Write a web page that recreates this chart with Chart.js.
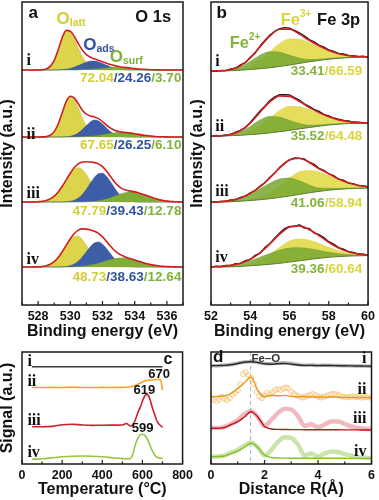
<!DOCTYPE html>
<html><head><meta charset="utf-8">
<script src="https://cdn.jsdelivr.net/npm/chart.js@4.4.1/dist/chart.umd.min.js"></script>
<style>
html,body{margin:0;padding:0;background:#fff;width:379px;height:500px;overflow:hidden;position:relative}
canvas{position:absolute;display:block}
</style></head><body>
<canvas id="ca" width="190" height="342" style="left:0;top:0"></canvas>
<canvas id="cb" width="189" height="342" style="left:190px;top:0"></canvas>
<canvas id="cc" width="197" height="158" style="left:0;top:342px"></canvas>
<canvas id="cd" width="189" height="158" style="left:190px;top:342px"></canvas>
<script>
// ---------- Panel a : O 1s ----------
const xA = [527,527.25,527.5,527.75,528,528.25,528.5,528.75,529,529.25,529.5,529.75,530,530.25,530.5,530.75,531,531.25,531.5,531.75,532,532.25,532.5,532.75,533,533.25,533.5,533.75,534,534.25,534.5,534.75,535,535.25,535.5,535.75,536,536.25,536.5,536.75,537];
const offA = [235,168,103,38];
const latt1 = [0,0,0,0,0,.2,1,3.6,9.7,20.2,32.1,38.8,37.2,30.7,21.8,13.4,7.1,3.2,1.3,.4,.1,0,0,0,0,0,0,0,0,0,0,0,0,0,0,0,0,0,0,0,0];
const ads1  = [0,0,0,0,0,0,0,0,0,.1,.4,.8,1.6,2.8,4.4,6.2,7.8,8.8,8.9,8.1,6.5,4.7,3.1,1.8,.9,.4,.2,0,0,0,0,0,0,0,0,0,0,0,0,0,0];
const surf1 = [0,0,0,0,0,0,0,0,0,0,0,0,0,0,.1,.3,.4,.7,1.0,1.3,1.7,2.1,2.4,2.6,2.6,2.4,2.2,1.8,1.4,1.0,.7,.5,.3,.2,.1,0,0,0,0,0,0];
const env1  = [0,0,0,0,0,.2,1,3.6,9.7,20.3,32.5,39.6,38.8,33.5,26.3,19.9,15.3,12.7,11.2,9.8,8.3,6.8,5.5,4.4,3.5,2.8,2.4,1.8,1.4,1.0,.7,.5,.3,.2,.1,0,0,0,0,0,0];
const latt2 = [0,0,0,0,0,.1,.4,1.8,5.4,13.0,24.3,35.3,40,36.9,28.9,19.2,10.9,5.3,2.1,.7,.2,0,0,0,0,0,0,0,0,0,0,0,0,0,0,0,0,0,0,0,0];
const ads2  = [0,0,0,0,0,0,0,0,0,0,0,.3,.7,1.9,4.1,7.4,11.5,15.1,16.9,16.1,13.1,9.0,5.3,2.6,1.1,.4,.1,0,0,0,0,0,0,0,0,0,0,0,0,0,0];
const surf2 = [0,0,0,0,0,0,0,0,0,0,0,0,0,0,.1,.2,.4,.7,1.1,1.6,2.2,2.9,3.5,4.1,4.4,4.5,4.3,3.9,3.3,2.6,1.9,1.4,.9,.5,.3,.2,.1,0,0,0,0];
const env2  = [0,0,0,0,0,.1,.4,1.8,5.4,13.0,24.3,35.6,40.7,38.8,33.1,26.8,22.8,21.1,20.1,18.4,15.5,11.9,8.8,6.7,5.5,4.9,4.4,3.9,3.3,2.6,1.9,1.4,.9,.5,.3,.2,.1,0,0,0,0];
const latt3 = [0,0,0,0,.3,.7,1.5,3.1,5.9,10.1,15.7,22.0,28.1,32.6,34.2,32.4,27.4,20.7,14.1,8.6,4.7,2.3,1.0,.4,.1,0,0,0,0,0,0,0,0,0,0,0,0,0,0,0,0];
const ads3  = [0,0,0,0,0,0,0,0,0,0,0,.3,.7,1.8,3.9,7.5,12.7,18.9,24.6,28.3,28.7,25.6,20.1,13.9,8.4,4.5,2.1,.9,.3,0,0,0,0,0,0,0,0,0,0,0,0];
const surf3 = [0,0,0,0,0,0,0,0,0,0,0,0,0,0,0,0,.2,.4,.7,1.2,2.0,3.0,4.3,5.8,7.3,8.6,9.6,10,9.8,9.0,7.8,6.4,4.9,3.5,2.4,1.5,.9,.5,.3,.1,0];
const env3  = [0,0,0,0,.3,.7,1.5,3.1,5.9,10.1,15.7,22.3,28.8,34.4,38.1,39.9,40.3,40.0,39.4,38.1,35.4,30.9,25.4,20.1,15.8,13.1,11.7,10.9,10.1,9.0,7.8,6.4,4.9,3.5,2.4,1.5,.9,.5,.3,.1,0];
const latt4 = [0,0,0,0,.2,.5,1.2,2.8,5.4,9.6,15.1,21.3,26.9,30.4,30.7,27.3,21.5,14.8,9.0,4.8,2.3,.9,.3,.1,0,0,0,0,0,0,0,0,0,0,0,0,0,0,0,0,0];
const ads4  = [0,0,0,0,0,0,0,0,0,0,.2,.5,1.3,2.9,5.8,10.0,15.2,20.3,24.0,25,22.8,18.4,13.0,8.1,4.5,2.2,.9,.4,.1,0,0,0,0,0,0,0,0,0,0,0,0];
const surf4 = [0,0,0,0,0,0,0,0,0,0,0,0,0,.2,.4,.8,1.2,1.9,2.7,3.8,5.0,6.2,7.4,8.3,8.9,9,8.7,7.9,6.9,5.7,4.5,3.3,2.4,1.6,1.0,.6,.4,.2,.1,0,0];
const env4  = [0,0,0,0,.2,.5,1.2,2.8,5.4,9.6,15.3,21.8,28.2,33.5,36.9,38.1,37.9,37.0,35.7,33.6,30.1,25.5,20.7,16.5,13.4,11.2,9.6,8.3,7.0,5.7,4.5,3.3,2.4,1.6,1.0,.6,.4,.2,.1,0,0];
const lattA = [latt1,latt2,latt3,latt4], adsA = [ads1,ads2,ads3,ads4], surfA = [surf1,surf2,surf3,surf4], envA = [env1,env2,env3,env4];
const ratiosA = [["72.04","24.26","3.70"],["67.65","26.25","6.10"],["47.79","39.43","12.78"],["48.73","38.63","12.64"]];

// ---------- Panel b : Fe 3p ----------
const xB  = [52,52.5,53,53.5,54,54.5,55,55.5,56,56.5,57,57.5,58,58.5,59,59.5,60];
const xBq = [52,52.25,52.5,52.75,53,53.25,53.5,53.75,54,54.25,54.5,54.75,55,55.25,55.5,55.75,56,56.25,56.5,56.75,57,57.25,57.5,57.75,58,58.25,58.5,58.75,59,59.25,59.5,59.75,60];
const offB = [234,169,103,38];
const bgB1 = [0,0,.3,.8,1.5,2.3,3.3,4.6,6,7.6,9.2,10.6,11.8,12.7,13.3,13.7,14];
const bgB2 = [0,0,.3,.7,1.4,2.1,3.1,4.3,5.6,7.1,8.5,9.8,11,11.8,12.4,12.7,13];
const bgB3 = [0,0,.3,.8,1.5,2.3,3.3,4.6,6,7.6,9.2,10.6,11.8,12.7,13.3,13.7,14];
const bgB4 = [0,0,.2,.6,1.2,1.9,2.7,3.7,4.9,6.2,7.5,8.7,9.7,10.4,10.9,11.2,11.4];
const fe2_1 = [.1,.2,1.0,3.4,8.0,13.5,16,14.1,9.7,5.2,2.2,1.2,.8,.5,.3,.1,0];
const fe3_1 = [0,0,.3,1.1,3.5,8.5,15.8,23.0,26,24.1,19.3,13.4,8.0,4.1,1.8,.7,.2];
const envB1 = [.1,.2,1.3,4.5,11.5,22.0,31.8,37.1,35.7,29.3,21.5,14.6,8.8,4.6,2.1,.8,.2];
const rawB1 = [.5,-.3,.6,.35,2.1,2.75,6.1,8.35,13.8,18.0,25.1,30.7,35.9,39.75,42.5,43.3,42.9,40.7,38.2,35.3,31.4,29.3,25.9,23.8,21.1,19.65,17.6,17.0,15.6,15.4,14.3,14.85,13.8];
const fe2_2 = [.1,.2,1.0,3.5,8.2,13.9,16.5,14.5,10.0,5.4,2.3,1.2,.8,.5,.3,.1,0];
const fe3_2 = [0,0,.3,1.0,3.2,7.8,14.6,21.2,24,22.2,17.8,12.4,7.4,3.8,1.7,.6,.2];
const envB2 = [.1,.2,1.3,4.5,11.4,21.7,31.1,35.7,34.0,27.6,20.1,13.6,8.2,4.3,2.0,.7,.2];
const rawB2 = [-.2,.5,.1,1.15,1.3,3.8,5.6,8.35,13.6,19.25,25.0,30.0,35.6,39.1,41.3,41.25,41.2,38.55,36.0,32.2,29.8,26.65,24.6,21.7,20.2,18.0,16.9,15.5,15.0,13.75,13.8,13.05,13.3];
const fe2_3 = [.1,.4,1.3,3.2,6.5,10.9,15.4,18.3,18.0,13.6,7.9,3.4,2.0,.9,.6,.3,.1];
const fe3_3 = [0,0,0,.1,.6,2.1,5.5,11.2,18.0,22.6,22.4,19.3,14.5,9.5,5.4,2.7,1.2];
const envB3 = [.1,.4,1.3,3.3,7.1,13.0,20.9,29.5,36.0,36.2,30.3,22.7,16.5,10.4,6.0,3.0,1.3];
const rawB3 = [.4,-.2,.7,.65,2.2,2.35,4.7,5.95,9.3,11.5,16.0,19.3,24.9,28.95,34.9,39.1,42.2,44.1,43.6,43.0,39.8,37.7,33.7,31.8,28.0,26.35,22.9,21.9,18.9,18.4,16.4,16.25,15.0];
const fe2_4 = [.2,.6,1.4,2.8,5.0,7.9,10.8,13.1,14,13.1,10.8,7.9,5.0,2.8,1.4,.6,.2];
const fe3_4 = [0,0,.1,.4,1.6,4.4,9.5,16.0,21.0,21.8,19.2,14.8,10.0,5.8,3.0,1.3,.5];
const envB4 = [.2,.6,1.5,3.2,6.6,12.3,20.3,29.1,35.0,34.9,30.0,22.7,15.0,8.6,4.4,1.9,.7];
const rawB4 = [-.2,.8,.3,1.5,1.3,3.3,3.6,6.4,7.5,11.65,13.9,19.5,23.6,29.1,34.1,38.4,40.5,40.45,42.2,38.95,38.7,34.1,32.3,29.5,25.3,22.95,19.5,17.85,15.4,14.65,13.0,12.9,11.9];
const bgB = [bgB1,bgB2,bgB3,bgB4], fe2B = [fe2_1,fe2_2,fe2_3,fe2_4], fe3B = [fe3_1,fe3_2,fe3_3,fe3_4], envB = [envB1,envB2,envB3,envB4], rawB = [rawB1,rawB2,rawB3,rawB4];
const ratiosB = [["33.41","66.59"],["35.52","64.48"],["41.06","58.94"],["39.36","60.64"]];

// ---------- Panel c : TPR ----------
const tempI = [50,700];
const sigI  = [97.3,97.3];
const tempT = [50,100,150,200,250,300,350,400,450,500,520,540,550,560,570,580,590,600,610,620,630,640,650,660,670,680,690,700];
const sigII  = [76.5,76.5,76.6,76.5,76.7,76.5,76.5,76.6,76.5,76.6,76.8,77.3,77.8,78.3,79,80,81,82,83,83.5,83.8,84,84.2,84.3,84.4,84.5,84.2,74];
const sigIII = [37.3,37.3,37.6,39.2,39.8,39.0,38.6,38.8,38.9,39.0,40.5,38.0,39.0,42,47,53,57,63,67.5,69.5,68.5,63,56,50,44,40.5,38.5,36.7];
const sigIV  = [4.7,5.2,6.2,7.2,7.8,8.0,7.8,7.2,6.3,5.4,5.2,5.6,8.5,16,22.5,26.8,29.3,29.8,28.8,26.5,22.5,17.5,13,9.3,7.2,6.2,5.8,5.6];
const peaksC = ["670","619","599"];

// ---------- Panel d : EXAFS ----------
const xR = [0,0.25,0.5,0.75,1,1.25,1.5,1.75,2,2.25,2.5,2.75,3,3.25,3.5,3.75,4,4.25,4.5,4.75,5,5.25,5.5,5.75,6];
const xR10 = [0,0.1,0.2,0.3,0.4,0.5,0.6,0.7,0.8,0.9,1,1.1,1.2,1.3,1.4,1.5,1.6,1.7,1.8,1.9,2,2.1,2.2,2.3,2.4,2.5,2.6,2.7,2.8,2.9,3,3.1,3.2,3.3,3.4,3.5,3.6,3.7,3.8,3.9,4,4.1,4.2,4.3,4.4,4.5,4.6,4.7,4.8,4.9,5,5.1,5.2,5.3,5.4,5.5,5.6,5.7,5.8,5.9,6];
const fitI   = [98.3,98.4,98.6,99.2,100.5,101.8,102.2,101.5,100.2,99.8,100.3,100.5,99.8,99.0,98.6,98.6,98.4,98.5,98.5,98.3,98.2,98.1,98.0,97.9,97.8];
const expI   = [98.2,98.3,98.7,99.5,100.8,102.0,102.5,101.6,100.5,100.2,101.0,101.3,100.5,99.4,98.8,98.9,98.6,98.7,98.6,98.4,98.3,98.2,98.0,97.9,97.8];
const fitII  = [67.3,67.6,68.3,70.5,75.5,81.5,86.7,73.5,67.5,68.8,68.2,68.6,67.6,67.2,67.4,67.0,67.0,66.9,67.0,66.7,66.6,66.6,66.5,66.4,66.3];
const expII  = [66,64.5,63,64.5,67,65.5,64,66,69.5,71,73.5,80,90,91.5,89,86,80,72,67.5,66,68.5,71,69.5,71.5,74,75,74,75.5,76.5,75.5,72.5,70,68.5,67.5,66.5,67,68,69,70,69,67.5,66.5,67,68,69,69.8,70,69.5,68.5,67.5,67,66.8,67.2,67.5,67.2,66.8,66.5,66.6,66.8,66.6,66.4];
const fitIII = [35.7,35.8,36.5,39.5,42.3,47,52.3,47,37.5,35,34.6,34.5,34.4,34.4,34.3,34.3,34.3,34.2,34.2,34.2,34.1,34.1,34.1,34.0,34.0];
const expIII = [36,36,37,40,44,50,53,47,38,44,51,55.3,54.5,48,38,39.7,36.8,39.5,42.5,42.5,40,37.5,36,35.2,34.8];
const fitIV  = [7.3,7.4,8,10.5,13,17,20.7,16.5,9,6.5,6,5.9,5.8,5.8,5.8,5.8,5.7,5.7,5.7,5.7,5.7,5.6,5.6,5.6,5.6];
const expIV  = [7.5,7.5,8.5,11.5,14,18.5,21.5,16.5,8.5,14,22,26.7,26,19.5,8.5,10.5,7.5,10.5,12.5,12,10,8,6.8,6.2,6];
const feO_R = 1.48;

const numerals = ["i","ii","iii","iv"];

// ---------- helpers ----------
const SANS = 'Liberation Sans', SERIF = 'Liberation Serif';
const F  = s => `bold ${s}px "${SANS}"`;
const FS = s => `bold ${s}px "${SERIF}"`;
const RED = '#d11f1f';

function annotPlugin(items){
  return {id:'annot', afterDraw(chart){
    const ctx = chart.ctx, xs = chart.scales.x, ys = chart.scales.y;
    items.forEach(it => {
      const px = xs.getPixelForValue(it.x), py = ys.getPixelForValue(it.y);
      ctx.save(); ctx.textBaseline = 'middle'; ctx.textAlign = 'left';
      let w = 0;
      it.parts.forEach(p => { ctx.font = p.f || it.f; w += ctx.measureText(p.t).width; });
      let x0 = it.a === 'right' ? px - w : (it.a === 'center' ? px - w/2 : px);
      it.parts.forEach(p => { ctx.font = p.f || it.f; ctx.fillStyle = p.c || it.c || '#111';
        ctx.fillText(p.t, x0, py + (p.dy || 0)); x0 += ctx.measureText(p.t).width; });
      ctx.restore();
    });
  }};
}
function boxPlugin(vline){
  return {id:'box',
    beforeDatasetsDraw(chart){
      if (vline === undefined) return;
      const {ctx, chartArea:a} = chart; const px = chart.scales.x.getPixelForValue(vline);
      ctx.save(); ctx.strokeStyle = '#9fb2c9'; ctx.lineWidth = 1; ctx.setLineDash([4,3]);
      ctx.beginPath(); ctx.moveTo(px, a.top); ctx.lineTo(px, a.bottom); ctx.stroke(); ctx.restore();
    },
    afterDatasetsDraw(chart){
      const {ctx, chartArea:a} = chart; const xs = chart.scales.x;
      ctx.save(); ctx.strokeStyle = '#1a1a1a'; ctx.lineWidth = 1.5;
      ctx.strokeRect(a.left, a.top, a.right - a.left, a.bottom - a.top);
      ctx.lineWidth = 1.2;
      xs.ticks.forEach(t => { const px = xs.getPixelForValue(t.value); const major = t.label !== '' ;
        ctx.beginPath(); ctx.moveTo(px, a.bottom); ctx.lineTo(px, a.bottom - (major ? 4 : 2.5)); ctx.stroke(); });
      ctx.restore();
    }};
}
function baseOptions(o){
  return {
    responsive:false, animation:false, devicePixelRatio:1,
    layout:{padding:{top:o.pt, right:o.pr, left:0, bottom:0}},
    plugins:{legend:{display:false}, tooltip:{enabled:false}},
    elements:{point:{radius:0}, line:{cubicInterpolationMode:'monotone'}},
    scales:{
      x:{type:'linear', min:o.xmin, max:o.xmax,
        afterFit(s){ s.height = o.xh; },
        grid:{display:false, drawTicks:false}, border:{display:false},
        ticks:{stepSize:o.step, autoSkip:false, maxRotation:0, padding:o.tp,
          font:{family:SANS, weight:'bold', size:12.5}, color:'#111',
          callback:v => (Math.round(v / o.step) % 2 === 0 ? String(v) : '')},
        title:{display:true, text:o.xt, color:'#111', padding:{top:0,bottom:2},
          font:{family:SANS, weight:'bold', size:16, lineHeight:1}}},
      y:{type:'linear', min:0, max:o.ymax,
        afterFit(s){ s.width = o.yw; },
        grid:{display:false, drawTicks:false}, border:{display:false},
        ticks:{display:false},
        title:{display:!!o.yt, text:o.yt || '', color:'#111', padding:{top:0,bottom:0},
          font:{family:SANS, weight:'bold', size:16, lineHeight:1}}}
    }
  };
}

// ---------- Chart a ----------
const YA = '#dcd54c', BA = '#3d5ea7', GA = '#80ad38';
const YT = '#d3ce35', BT = '#2f52a0', GT = '#7fb13a';
const dsA = [];
offA.forEach((off, k) => {
  const pts = arr => xA.map((x, i) => ({x, y: off + arr[i]}));
  dsA.push({data: pts(envA[k]), borderColor: RED, borderWidth: 1.6, fill: false, order: 0});
  dsA.push({data: pts(surfA[k]), borderColor: '#6f9a2e', backgroundColor: GA, borderWidth: .6, fill: {value: off}, order: 1});
  dsA.push({data: pts(adsA[k]), borderColor: '#33508f', backgroundColor: BA, borderWidth: .6, fill: {value: off}, order: 2});
  dsA.push({data: pts(lattA[k]), borderColor: '#c9c23a', backgroundColor: YA, borderWidth: .6, fill: {value: off}, order: 3});
});
const itemsA = [
  {x:527.69, y:292, a:'center', parts:[{t:'a', f:F(17)}]},
  {x:535.15, y:288, a:'center', parts:[{t:'O 1s', f:F(16.5)}]},
  {x:529.15, y:286, parts:[{t:'O', f:F(17), c:YT}, {t:'latt', f:F(10.5), c:YT, dy:4}]},
  {x:530.8, y:260, parts:[{t:'O', f:F(17), c:BT}, {t:'ads', f:F(10.5), c:BT, dy:4}]},
  {x:532.45, y:248, parts:[{t:'O', f:F(17), c:GT}, {t:'surf', f:F(10.5), c:GT, dy:4}]}
];
[244,170,111,45].forEach((y,k) => itemsA.push({x:527.28, y, parts:[{t:numerals[k], f:FS(16)}]}));
[227,160,94,28].forEach((y,k) => itemsA.push({x:536.9, y, a:'right', f:F(13.5),
  parts:[{t:ratiosA[k][0], c:YT}, {t:'/' + ratiosA[k][1], c:BT}, {t:'/' + ratiosA[k][2], c:GT}]}));
new Chart(document.getElementById('ca'), {type:'line', data:{datasets:dsA},
  options: baseOptions({pt:2, pr:7, xmin:527, xmax:537, step:1, xh:37, yw:22, ymax:303, tp:4,
    xt:'Binding energy (eV)', yt:'Intensity (a.u.)'}),
  plugins:[boxPlugin(), annotPlugin(itemsA)]});

// ---------- Chart b ----------
const YB = 'rgba(229,222,92,1)', GB = 'rgba(120,168,48,0.85)';
const YBT = '#d9d43c', GBT = '#82b33a';
const dsB = [];
offB.forEach((off, k) => {
  const bg = bgB[k];
  const pts = arr => xB.map((x, i) => ({x, y: off + bg[i] + (arr ? arr[i] : 0)}));
  const bgIdx = dsB.length;
  dsB.push({data: pts(null), borderColor: '#5d7d35', borderWidth: 1, fill: false, order: 2});
  dsB.push({data: pts(fe2B[k]), borderColor: 'rgba(110,155,45,0.9)', backgroundColor: GB, borderWidth: .6, fill: bgIdx, order: 3});
  dsB.push({data: pts(fe3B[k]), borderColor: '#d8d150', backgroundColor: YB, borderWidth: .6, fill: bgIdx, order: 4});
  dsB.push({data: xBq.map((x, i) => ({x, y: off + rawB[k][i]})), borderColor: '#151515', borderWidth: 1.3, tension: 0, cubicInterpolationMode: 'default', fill: false, order: 1});
  dsB.push({data: pts(envB[k]), borderColor: RED, borderWidth: 1.6, fill: false, order: 0});
});
const itemsB = [
  {x:52.55, y:292, a:'center', parts:[{t:'b', f:F(17)}]},
  {x:58.5, y:285, a:'center', parts:[{t:'Fe 3p', f:F(16.5)}]},
  {x:55.55, y:285, parts:[{t:'Fe', f:F(16.5), c:YBT}, {t:'3+', f:F(10), c:YBT, dy:-6}]},
  {x:52.95, y:262, parts:[{t:'Fe', f:F(16.5), c:GBT}, {t:'2+', f:F(10), c:GBT, dy:-6}]}
];
[243,178,113,47].forEach((y,k) => itemsB.push({x:52.22, y, parts:[{t:numerals[k], f:FS(16)}]}));
[234,169,102,36].forEach((y,k) => itemsB.push({x:59.7, y, a:'right', f:F(13.5),
  parts:[{t:ratiosB[k][0], c:GBT}, {t:'/' + ratiosB[k][1], c:YBT}]}));
new Chart(document.getElementById('cb'), {type:'line', data:{datasets:dsB},
  options: baseOptions({pt:2, pr:7, xmin:52, xmax:60, step:1, xh:37, yw:21, ymax:303, tp:4,
    xt:'Binding energy (eV)', yt:'Intensity (a.u.)'}),
  plugins:[boxPlugin(), annotPlugin(itemsB)]});

// ---------- Chart c ----------
const tp = (xs, ys) => xs.map((x, i) => ({x, y: ys[i]}));
const dsC = [
  {data: tp(tempI, sigI), borderColor: '#3b3b3b', borderWidth: 1.6},
  {data: tp(tempT, sigII), borderColor: '#f0a428', borderWidth: 1.6},
  {data: tp(tempT, sigIII), borderColor: '#c9212b', borderWidth: 1.6},
  {data: tp(tempT, sigIV), borderColor: '#95c53f', borderWidth: 1.6}
];
const itemsC = [
  {x:727, y:104.7, a:'center', parts:[{t:'c', f:F(16)}]},
  {x:683, y:89.5, a:'center', parts:[{t:peaksC[0], f:F(13)}]},
  {x:610, y:74, a:'center', parts:[{t:peaksC[1], f:F(13)}]},
  {x:601, y:35.7, a:'center', parts:[{t:peaksC[2], f:F(13)}]}
];
[102,82.5,43,11.5].forEach((y,k) => itemsC.push({x:27, y, parts:[{t:numerals[k], f:FS(16)}]}));
new Chart(document.getElementById('cc'), {type:'line', data:{datasets:dsC},
  options: baseOptions({pt:10, pr:14, xmin:0, xmax:800, step:100, xh:36, yw:22, ymax:112, tp:4,
    xt:'Temperature (°C)', yt:'Signal (a.u.)'}),
  plugins:[boxPlugin(), annotPlugin(itemsC)]});

// ---------- Chart d ----------
const dsD = [
  {data: tp(xR, fitI), borderColor: '#2a2a2a', borderWidth: 1.4, order: 0},
  {data: tp(xR, expI), borderColor: 'rgba(150,150,150,0.7)', borderWidth: 3.5, order: 5},
  {data: tp(xR, fitII), borderColor: '#e99a1a', borderWidth: 1.4, order: 0},
  {data: tp(xR10, expII), showLine: false, pointRadius: 2.6, pointBorderWidth: 1,
   pointBorderColor: 'rgba(243,196,120,0.85)', pointBackgroundColor: 'rgba(255,255,255,0)', order: 5},
  {data: tp(xR, fitIII), borderColor: '#c0141e', borderWidth: 1.4, order: 0},
  {data: tp(xR, expIII), borderColor: 'rgba(230,140,150,0.6)', borderWidth: 4.5, order: 5},
  {data: tp(xR, fitIV), borderColor: '#86bf2c', borderWidth: 1.4, order: 0},
  {data: tp(xR, expIV), borderColor: 'rgba(185,220,140,0.75)', borderWidth: 4.5, order: 5}
];
const itemsD = [
  {x:0.27, y:106.5, a:'center', parts:[{t:'d', f:F(17)}]},
  {x:2.05, y:105.5, a:'center', parts:[{t:'Fe\u2013O', f:F(11.5), c:'#333'}]}
];
[105,74,45,12.3].forEach((y,k) => itemsD.push({x:5.81, y, a:'right', parts:[{t:numerals[k], f:FS(16)}]}));
new Chart(document.getElementById('cd'), {type:'line', data:{datasets:dsD},
  options: baseOptions({pt:10, pr:7, xmin:0, xmax:6, step:1, xh:36, yw:21, ymax:112, tp:4,
    xt:'Distance R(Å)', yt:''}),
  plugins:[boxPlugin(feO_R), annotPlugin(itemsD)]});
</script>
</body></html>
